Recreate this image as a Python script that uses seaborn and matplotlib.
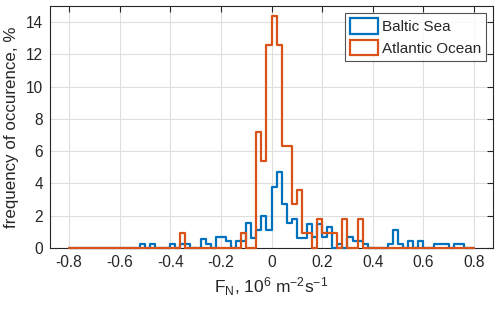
import numpy as np
import pandas as pd
import matplotlib
matplotlib.use("Agg")
import matplotlib.pyplot as plt
from matplotlib.patches import Patch
import seaborn as sns

# ---- data (percent per bin, bins of 0.02 from -0.8 to 0.8) ----
bin_edges = [round(v, 4) for v in np.linspace(-0.8, 0.8, 81)]

baltic_pct = [
    0, 0, 0, 0, 0, 0, 0, 0, 0, 0,
    0, 0, 0, 0, 0.27, 0, 0.27, 0, 0, 0,
    0.27, 0, 0.27, 0.27, 0, 0, 0.54, 0.27, 0, 0.68,
    0.68, 0.45, 0, 0.45, 0.45, 1.55, 0.64, 1.1, 2.0, 1.1,
    3.8, 4.7, 2.7, 1.55, 1.8, 0.64, 0.64, 1.5, 0.68, 1.5,
    0.68, 1.3, 0, 0.27, 0, 0.68, 0.45, 0.45, 0.27, 0,
    0, 0, 0, 0.27, 1.1, 0.27, 0, 0.45, 0, 0.45,
    0, 0, 0.27, 0.27, 0.27, 0, 0.27, 0.27, 0, 0,
]

atlantic_pct = [
    0, 0, 0, 0, 0, 0, 0, 0, 0, 0,
    0, 0, 0, 0, 0, 0, 0, 0, 0, 0,
    0, 0, 0.9, 0, 0, 0, 0, 0, 0, 0,
    0, 0, 0, 0, 0.9, 0, 0, 7.2, 5.4, 12.6,
    14.4, 12.6, 6.3, 6.3, 2.7, 3.6, 0.9, 0.9, 0, 1.8,
    0.9, 0.9, 0.9, 0, 1.8, 0, 0, 1.8, 0, 0,
    0, 0, 0, 0, 0, 0, 0, 0, 0, 0,
    0, 0, 0, 0, 0, 0, 0, 0, 0, 0,
]

series_names = ["Baltic Sea", "Atlantic Ocean"]
series_colors = ["#0072BD", "#D95319"]
x_ticks = [-0.8, -0.6, -0.4, -0.2, 0, 0.2, 0.4, 0.6, 0.8]
y_ticks = [0, 2, 4, 6, 8, 10, 12, 14]

edges_arr = np.array(bin_edges)
centers = (edges_arr[:-1] + edges_arr[1:]) / 2
df = pd.concat([
    pd.DataFrame({"F": centers, "pct": baltic_pct, "sea": series_names[0]}),
    pd.DataFrame({"F": centers, "pct": atlantic_pct, "sea": series_names[1]}),
], ignore_index=True)

sns.set_theme(style="white")
plt.rcParams["font.family"] = ["Liberation Sans", "DejaVu Sans"]
plt.rcParams["mathtext.fontset"] = "custom"
plt.rcParams["mathtext.rm"] = "Liberation Sans"
plt.rcParams["mathtext.it"] = "Liberation Sans"
plt.rcParams["axes.unicode_minus"] = False

fig = plt.figure(figsize=(5.0, 3.15), dpi=100)
ax = fig.add_axes([0.100, 0.213, 0.886, 0.768])

axis_col = "#262626"
for name, col in zip(series_names, series_colors):
    sub = df[df["sea"] == name]
    sns.histplot(data=sub, x="F", weights="pct", bins=bin_edges,
                 element="step", fill=False, color=col, linewidth=1.6, ax=ax)
for ln in ax.lines:
    ln.set_clip_on(False)
    ln.set_zorder(3)

ax.set_xlim(-0.875, 0.875)
ax.set_ylim(0, 15)
ax.set_xticks(x_ticks)
ax.set_xticklabels(["%g" % t for t in x_ticks])
ax.set_yticks(y_ticks)
ax.grid(True, color="#dedede", linewidth=0.8)
ax.set_axisbelow(True)
for s in ax.spines.values():
    s.set_visible(True)
    s.set_color(axis_col)
    s.set_linewidth(0.8)
    s.set_zorder(2.5)
ax.tick_params(direction="in", length=4, width=0.8, colors=axis_col,
               top=True, right=True, labelsize=11.2, pad=5)
ax.set_xlabel(r"F$_\mathregular{N}$, 10$^\mathregular{6}$ m$^\mathregular{-2}$s$^\mathregular{-1}$",
              fontsize=12.5, color=axis_col, labelpad=4)
ax.set_ylabel("frequency of occurence, %", fontsize=12.2, color=axis_col, labelpad=5)

handles = [Patch(facecolor="white", edgecolor=c, linewidth=1.6, label=n)
           for n, c in zip(series_names, series_colors)]
leg = ax.legend(handles=handles, loc="upper right", prop={"size": 11},
                frameon=True, fancybox=False, borderaxespad=0.45, handlelength=1.85,
                handleheight=1.2, handletextpad=0.2, borderpad=0.35, labelspacing=0.35)
leg.get_frame().set_edgecolor(axis_col)
leg.get_frame().set_linewidth(0.8)
leg.set_zorder(5)

fig.savefig("out.png", dpi=100)
